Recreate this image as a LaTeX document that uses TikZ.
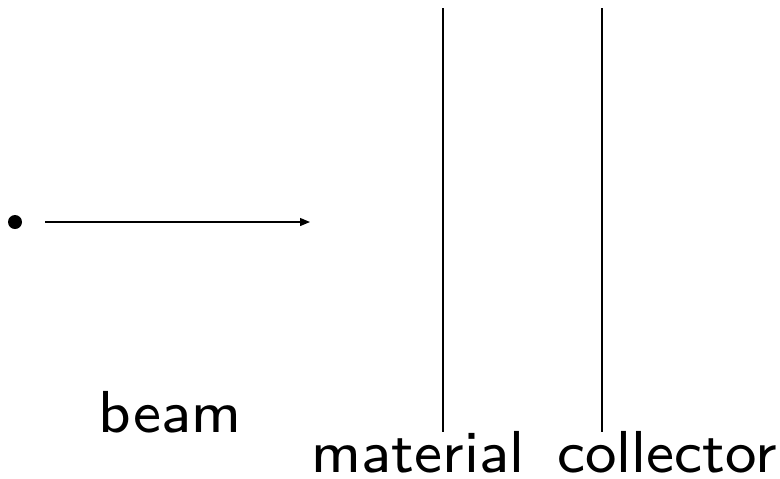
\documentclass[tikz,border=0pt]{standalone}
\usepackage{fontspec}
\usetikzlibrary{arrows.meta}
\begin{document}
\begin{tikzpicture}[x=0.5pt,y=-0.5pt,
  wire/.style={line width=0.6pt},
  lbl/.style={font=\sffamily\fontsize{8}{10}\selectfont\addfontfeature{LetterSpace=1.5},
    anchor=base, inner sep=0pt, scale=3.7}]
  \useasboundingbox (0,0) rectangle (780,478);
  % incoming particle and its direction
  \fill (15,222) circle (7);
  \coordinate (a0) at (45,222);
  \coordinate (a1) at (310,222);
  \draw[wire,-{Triangle[length=5pt,width=4pt]}] (a0) -- (a1);
  % material and collector plates
  \coordinate (m0) at (443,8);
  \coordinate (m1) at (443,432);
  \coordinate (c0) at (602,8);
  \coordinate (c1) at (602,432);
  \draw[wire] (m0) -- (m1);
  \draw[wire] (c0) -- (c1);
  % labels
  \node[lbl] (beam) at (170,432) {beam};
  \node[lbl] (material) at (418,472) {material};
  \node[lbl] (collector) at (667,472) {collector};
\end{tikzpicture}
\end{document}
